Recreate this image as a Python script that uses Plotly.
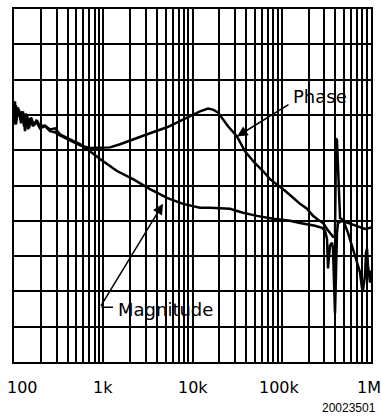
import math
import plotly.graph_objects as go

# Frequency axis (Hz) and vertical grid units (0..10 divisions)
mag_freq = [100, 102.6, 105.3, 108.1, 113.8, 119.8, 126.1, 132.8, 139.9, 147.3, 155.1, 167.5,
            181.0, 195.6, 222.5, 253.2, 288.0, 327.6, 424.1, 548.9, 710.4, 919.5, 1426, 2154,
            3341, 5179, 7829, 12134, 15700, 26300, 36800, 52800, 79800, 123600, 160150, 235600,
            282600, 305200, 321400, 329800, 347200, 365600, 375200, 395100, 415900, 426900,
            473300, 552600, 715200, 856900, 974600, 1000000]
mag_val = [7.38, 6.73, 7.27, 6.96, 7.15, 6.76, 7.10, 6.54, 7.01, 6.62, 6.93, 6.70,
           6.85, 6.68, 6.70, 6.59, 6.62, 6.45, 6.31, 6.17, 5.97, 5.75, 5.41, 5.18,
           4.90, 4.65, 4.48, 4.37, 4.37, 4.34, 4.23, 4.14, 4.06, 4.00, 3.94, 3.86,
           3.80, 3.72, 3.49, 2.65, 3.30, 3.38, 3.21, 1.38, 3.66, 3.94,
           4.00, 3.94, 3.86, 3.77, 3.80, 3.83]

phase_freq = [100, 102.6, 105.3, 110.9, 116.7, 122.9, 129.4, 136.3, 143.5, 151.1, 163.3, 176.4,
              195.6, 222.5, 253.2, 288.0, 327.6, 424.1, 548.9, 710.4, 919.5, 1190, 1541, 2154,
              3341, 5179, 7829, 12134, 14920, 16970, 19310, 21970, 25000, 31520, 38740, 50150,
              61650, 73850, 90770, 108750, 130240, 160150, 191820, 223980, 254920, 289900,
              321400, 347200, 375200, 395100, 405400, 415900, 449800, 485700, 552600, 662000,
              753200, 793100, 813800, 856900, 879000, 902000, 925500, 974600, 1000000]
phase_val = [7.21, 7.38, 6.73, 7.21, 6.93, 7.10, 6.68, 7.04, 6.59, 6.90, 6.68, 6.82,
             6.62, 6.68, 6.54, 6.51, 6.42, 6.28, 6.14, 6.06, 6.06, 6.08, 6.17, 6.31,
             6.48, 6.65, 6.87, 7.10, 7.18, 7.15, 7.07, 6.87, 6.68, 6.39, 5.97, 5.63,
             5.41, 5.18, 5.01, 4.85, 4.68, 4.48, 4.34, 4.14, 4.03, 3.94,
             3.77, 3.66, 3.55, 3.55, 6.34, 6.28, 4.08, 4.03, 3.66, 3.01,
             2.54, 2.08, 2.03, 2.45, 3.10, 3.21, 2.73, 2.25, 2.59]

tick_freq = [100, 1000, 10000, 100000, 1000000]
tick_text = ["100", "1k", "10k", "100k", "1M"]

fig = go.Figure()
fig.add_trace(go.Scatter(x=mag_freq, y=mag_val, mode="lines",
                         line=dict(color="black", width=2.5), name="Magnitude"))
fig.add_trace(go.Scatter(x=phase_freq, y=phase_val, mode="lines",
                         line=dict(color="black", width=2.5), name="Phase"))

L = math.log10
ann = []
# Tick labels
shifts = [8, 0, 0, -2, -2]
for f, t, s in zip(tick_freq, tick_text, shifts):
    ann.append(dict(x=L(f), y=-0.073, xref="x", yref="paper", text=t, showarrow=False,
                    xanchor="center", yanchor="middle", xshift=s,
                    font=dict(family="DejaVu Sans", size=16, color="black")))
# Figure number
ann.append(dict(x=1, y=-0.13, xref="paper", yref="paper", text="20023501", showarrow=False,
                xanchor="right", yanchor="middle", xshift=7,
                font=dict(family="Liberation Sans, Arial", size=12, color="black")))
# Phase label + arrow
ann.append(dict(x=L(31520), y=6.39, ax=L(123700), ay=7.32, xref="x", yref="y",
                axref="x", ayref="y", text="", showarrow=True, arrowhead=2,
                arrowsize=1.4, arrowwidth=1.5, arrowcolor="black"))
ann.append(dict(x=L(127000), y=7.52, xref="x", yref="y", text="Phase", showarrow=False,
                xanchor="left", yanchor="middle",
                font=dict(family="DejaVu Sans", size=18, color="black")))
# Magnitude label + arrow
ann.append(dict(x=L(4673), y=4.48, ax=L(919.5), ay=1.55, xref="x", yref="y",
                axref="x", ayref="y", text="", showarrow=True, arrowhead=2,
                arrowsize=1.4, arrowwidth=1.5, arrowcolor="black"))
ann.append(dict(x=L(1286), y=1.55, ax=L(919.5), ay=1.55, xref="x", yref="y",
                axref="x", ayref="y", text="", showarrow=True, arrowhead=0,
                arrowwidth=1.5, arrowcolor="black"))
ann.append(dict(x=L(1380), y=1.49, xref="x", yref="y", text="Magnitude", showarrow=False,
                xanchor="left", yanchor="middle",
                font=dict(family="DejaVu Sans", size=18, color="black")))

fig.update_layout(
    width=381, height=419,
    margin=dict(l=14, r=10, t=7, b=57),
    paper_bgcolor="white", plot_bgcolor="white",
    showlegend=False,
    hovermode=False,
    annotations=ann,
    xaxis=dict(type="log", range=[2, 6], dtick="D1", showgrid=True, gridcolor="black",
               gridwidth=2, showticklabels=False, ticks="", zeroline=False,
               showline=True, mirror=True, linecolor="black", linewidth=2),
    yaxis=dict(range=[0, 10], dtick=1, showgrid=True, gridcolor="black", gridwidth=2,
               showticklabels=False, ticks="", zeroline=False,
               showline=True, mirror=True, linecolor="black", linewidth=2),
)
fig.write_html("out.html",
               config={"displayModeBar": False, "staticPlot": True},
               post_script="document.body.style.margin='0';document.body.style.padding='0';")
